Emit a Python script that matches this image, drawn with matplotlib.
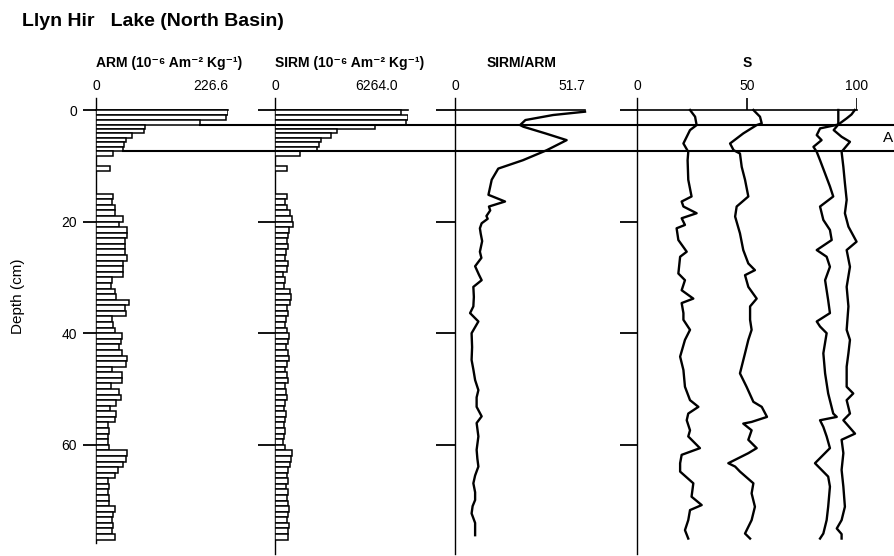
import numpy as np
import matplotlib
matplotlib.use("Agg")
import matplotlib.pyplot as plt
from matplotlib.transforms import blended_transform_factory

plt.rcParams['font.family'] = ['Liberation Sans Narrow', 'Liberation Sans', 'DejaVu Sans']

# ---------------- data ----------------
# Upper (finely sampled) section: bar edges in cm and values
top_edges = [0.0, 0.87, 1.73, 2.6, 3.4, 4.2, 5.0, 5.8, 6.6, 7.4, 8.2]
arm_top = [226.6, 224.0, 178.0, 84.0, 82.0, 62.0, 52.0, 48.0, 46.0, 29.0]
sirm_top = [5950, 6264, 6150, 4700, 2900, 2650, 2150, 2050, 2000, 1180]

# Isolated sample between the gaps
iso_depth = [10.0]
arm_iso = [24.5]
sirm_iso = [550]

# Lower section, 1 cm samples (top of each sample)
lower_depth = list(range(15, 77))
arm_lower = [30, 28, 33, 33, 47, 40, 53, 53, 49, 49,
             49, 53, 46, 46, 46, 27, 25, 33, 34, 56,
             50, 52, 27, 29, 33, 44, 43, 40, 44, 53,
             51, 27, 44, 44, 25, 40, 43, 34, 24, 35,
             32, 20, 22, 20, 20, 22, 53, 51, 46, 37,
             33, 20, 22, 20, 22, 22, 32, 29, 27, 29,
             27, 33]
sirm_lower = [550, 470, 560, 700, 790, 830, 670, 630, 560, 600,
              520, 480, 620, 560, 400, 470, 420, 690, 740, 720,
              560, 600, 520, 480, 560, 640, 600, 520, 610, 650,
              560, 470, 560, 610, 450, 520, 580, 480, 430, 520,
              470, 420, 480, 440, 400, 480, 780, 760, 700, 620,
              560, 590, 520, 600, 560, 620, 680, 600, 580, 640,
              620, 600]

# SIRM/ARM profile
ratio_depth = [0.3, 0.9, 1.8, 2.7, 3.0, 4.2, 5.4, 7.2, 9.0, 10.5,
               12.5, 15.2, 16.4, 17.3, 18.0, 19.0, 19.5, 20.3, 21.2, 22.1,
               23.5, 25.4, 26.5, 28.0, 29.5, 30.5, 31.7, 33.5, 35.2, 36.4,
               37.9, 40.0, 42.5, 44.8, 46.5, 48.4, 50.2, 51.5, 53.2, 54.9,
               56.1, 58.5, 60.9, 62.5, 63.9, 65.5, 66.9, 68.5, 69.9, 71.0,
               72.3, 74.0, 75.0, 76.2]
ratio_vals = [51.7, 39.0, 28.0, 25.9, 27.2, 36.0, 44.4, 36.5, 27.0, 17.2,
              14.6, 13.3, 19.9, 13.5, 14.0, 12.5, 13.0, 10.6, 9.9, 10.2,
              10.8, 9.9, 10.5, 8.0, 9.5, 10.6, 7.3, 7.5, 7.3, 6.0,
              9.3, 6.6, 6.8, 6.6, 7.3, 8.0, 9.3, 8.6, 8.6, 10.6,
              8.6, 9.3, 8.6, 8.9, 9.3, 8.0, 7.3, 8.0, 8.0, 7.0,
              6.6, 8.0, 8.0, 8.0]

# S-ratio profiles (four backfields)
s1_depth = [0.0, 1.2, 2.7, 3.6, 6.0, 7.5, 9.0, 12.5, 15.5, 16.4,
            17.3, 18.5, 19.4, 20.6, 21.2, 23.3, 25.4, 26.3, 29.3, 30.5,
            32.3, 33.8, 34.6, 36.4, 37.6, 39.4, 41.2, 44.2, 46.6, 49.6,
            52.0, 53.2, 54.4, 55.6, 57.4, 58.5, 60.6, 61.8, 63.3, 64.8,
            66.9, 69.3, 70.8, 71.7, 73.5, 75.3, 76.8]
s1_vals = [24.1, 26.4, 27.1, 24.1, 21.1, 23.3, 23.0, 23.3, 24.8, 20.3,
           21.1, 27.1, 20.3, 21.8, 18.0, 18.8, 22.6, 19.6, 18.8, 21.8,
           20.3, 25.6, 20.3, 21.1, 21.1, 24.1, 21.8, 19.6, 21.1, 21.8,
           24.1, 27.9, 23.3, 22.6, 24.1, 23.3, 28.6, 20.3, 19.6, 19.6,
           25.6, 24.8, 29.4, 24.1, 23.3, 21.8, 23.3]

s2_depth = [0.0, 1.2, 2.4, 2.7, 4.2, 6.0, 7.2, 7.8, 10.2, 12.5,
            15.5, 17.3, 19.1, 22.1, 25.1, 27.5, 28.7, 29.6, 31.7, 33.8,
            35.2, 37.6, 39.4, 41.2, 43.6, 47.2, 49.6, 52.3, 53.2, 55.0,
            55.9, 56.2, 57.4, 59.1, 60.6, 61.5, 63.3, 63.9, 64.8, 66.9,
            68.7, 71.1, 73.5, 75.9, 76.8]
s2_vals = [52.9, 55.9, 56.7, 54.4, 48.3, 42.3, 43.9, 46.8, 47.6, 49.1,
           50.6, 45.3, 44.6, 46.8, 48.3, 50.6, 53.6, 49.1, 50.6, 54.4,
           51.4, 51.4, 52.1, 50.6, 49.1, 46.8, 49.8, 52.9, 56.7, 59.1,
           52.1, 48.3, 52.1, 50.6, 54.4, 50.6, 41.5, 44.6, 46.8, 52.9,
           52.1, 53.6, 52.1, 49.1, 51.4]

s3_depth = [0.0, 2.6, 3.3, 4.5, 5.4, 6.6, 7.5, 9.0, 11.4, 13.7,
            15.5, 17.3, 19.7, 21.5, 23.3, 25.1, 26.3, 28.1, 30.5, 34.1,
            36.4, 37.9, 38.8, 40.0, 43.6, 47.2, 50.8, 54.4, 55.0, 55.6,
            56.8, 58.5, 60.6, 63.3, 65.7, 67.5, 71.1, 73.5, 75.9, 76.8]
s3_vals = [91.5, 91.5, 83.2, 81.7, 83.9, 80.2, 81.7, 83.2, 85.5, 87.7,
           89.2, 83.2, 84.7, 87.7, 88.5, 81.7, 86.2, 87.7, 85.5, 86.9,
           87.7, 81.7, 83.2, 86.2, 84.7, 85.5, 86.9, 89.2, 90.8, 83.2,
           84.7, 86.2, 87.7, 80.9, 86.9, 87.7, 86.9, 86.2, 84.7, 83.2]

s4_depth = [0.0, 0.8, 1.5, 2.6, 3.6, 4.8, 5.7, 7.5, 10.2, 13.1,
            16.1, 18.5, 20.9, 23.6, 25.1, 28.1, 31.7, 35.2, 39.4, 41.2,
            43.6, 46.0, 49.6, 50.8, 52.0, 54.4, 55.6, 58.0, 59.1, 61.5,
            64.5, 67.5, 71.1, 73.5, 75.0, 76.0, 76.8]
s4_vals = [99.0, 97.5, 95.3, 91.5, 89.4, 93.0, 96.8, 93.0, 93.8, 94.5,
           95.3, 94.5, 96.1, 99.8, 95.3, 96.8, 95.3, 96.1, 95.3, 96.8,
           96.1, 95.3, 95.3, 98.3, 95.3, 96.8, 93.8, 99.1, 93.0, 93.8,
           93.0, 93.8, 94.5, 93.0, 90.8, 93.0, 93.0]

zone_depths = [2.6, 7.4]
depth_ticks = [0, 20, 40, 60]

# ---------------- layout ----------------
W, H = 894, 556
fig = plt.figure(figsize=(W / 100, H / 100), dpi=100)
Y_TOP, Y_BOT = -2.2, 79.6
PX_PER_CM = 5.58
y0_px = 110.0
top_px = y0_px + Y_TOP * PX_PER_CM
bot_px = y0_px + Y_BOT * PX_PER_CM


def panel(x0, x1, xmax, tick_len):
    ax = fig.add_axes([x0 / W, 1 - bot_px / H, (x1 - x0) / W, (bot_px - top_px) / H])
    ax.set_xlim(0, xmax)
    ax.set_ylim(Y_BOT, Y_TOP)
    for s in ('top', 'right', 'bottom'):
        ax.spines[s].set_visible(False)
    ax.spines['left'].set_linewidth(1.0)
    ax.set_xticks([])
    ax.set_yticks(depth_ticks)
    ax.tick_params(axis='y', direction='out', length=tick_len, width=1.3,
                   labelsize=10, pad=4)
    ax.set_yticklabels([])
    ax.patch.set_alpha(0)
    # top reference line at the core surface
    ax.plot([0, xmax], [0, 0], color='black', lw=1.2, zorder=2, clip_on=False)
    return ax


ax_arm = panel(96, 228, 226.6, 9.5)
ax_sirm = panel(275, 408, 6264.0, 12)
ax_rat = panel(455, 585, 51.7, 14)
ax_s = panel(637, 857, 100, 12)

ax_arm.set_yticklabels([str(t) for t in depth_ticks])
ax_arm.spines['left'].set_bounds(Y_TOP, 77.6)

bar_kw = dict(color='white', edgecolor='black', linewidth=1.1, align='edge', zorder=3)
heights_top = np.diff(top_edges)
for ax, top_vals, iso_vals, low_vals in ((ax_arm, arm_top, arm_iso, arm_lower),
                                         (ax_sirm, sirm_top, sirm_iso, sirm_lower)):
    ax.barh(top_edges[:-1], top_vals, height=heights_top, **bar_kw)
    ax.barh(iso_depth, iso_vals, height=1.0, **bar_kw)
    ax.barh(lower_depth, low_vals, height=1.0, **bar_kw)

line_kw = dict(color='black', lw=1.7, solid_joinstyle='round', zorder=4, clip_on=False)
ax_rat.plot(ratio_vals, ratio_depth, **line_kw)
for d, v in ((s1_depth, s1_vals), (s2_depth, s2_vals), (s3_depth, s3_vals), (s4_depth, s4_vals)):
    ax_s.plot(v, d, **line_kw)
ax_s.vlines([50, 100], Y_TOP, 0, color='black', lw=1.2)

# scale labels and headers
lab_d = -4.3
head_d = -8.5
lab_kw = dict(fontsize=10, va='center', clip_on=False)
head_kw = dict(fontsize=10, va='center', fontweight='bold', clip_on=False)
ax_arm.text(0, lab_d, '0', ha='center', **lab_kw)
ax_arm.text(226.6, lab_d, '226.6', ha='right', **lab_kw)
ax_arm.text(0, head_d, 'ARM (10⁻⁶ Am⁻² Kg⁻¹)', ha='left', **head_kw)
ax_sirm.text(0, lab_d, '0', ha='center', **lab_kw)
ax_sirm.text(5770, lab_d, '6264.0', ha='right', **lab_kw)
ax_sirm.text(0, head_d, 'SIRM (10⁻⁶ Am⁻² Kg⁻¹)', ha='left', **head_kw)
ax_rat.text(0, lab_d, '0', ha='center', **lab_kw)
ax_rat.text(51.7, lab_d, '51.7', ha='right', **lab_kw)
ax_rat.text(26.5, head_d, 'SIRM/ARM', ha='center', **head_kw)
for t in (0, 50, 100):
    ax_s.text(t, lab_d, str(t), ha='center', **lab_kw)
ax_s.text(50, head_d, 'S', ha='center', **head_kw)

# zone boundaries drawn across all panels from the ARM bar ends
to_fig = fig.transFigure.inverted()
trans = blended_transform_factory(fig.transFigure, ax_arm.transData)
for zd in zone_depths:
    idx = int(np.argmin(np.abs(np.array(top_edges[1:]) - zd)))
    x_start = to_fig.transform(ax_arm.transData.transform((arm_top[idx], zd)))[0]
    fig.add_artist(plt.Line2D([x_start, 1.0], [zd, zd], transform=trans,
                              color='black', lw=1.5, zorder=5))
fig.text(888 / W, 0, 'A', transform=blended_transform_factory(fig.transFigure, ax_arm.transData),
         fontsize=11, ha='center', va='center')
fig.texts[-1].set_y(5.0)

fig.text(18 / W, 1 - 296 / H, 'Depth (cm)', rotation=90, ha='center', va='center', fontsize=11)
fig.text(22 / W, 1 - 21 / H, 'Llyn Hir   Lake (North Basin)', ha='left', va='center',
         fontsize=14, fontweight='bold')

fig.savefig('out.png', dpi=100)
